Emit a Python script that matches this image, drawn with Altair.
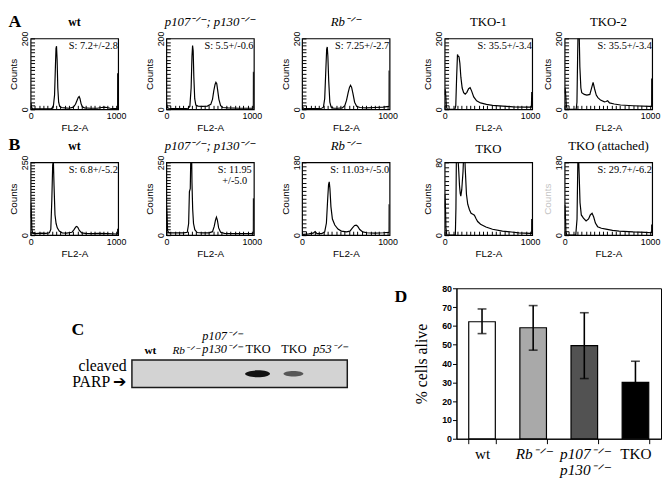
import json
import altair as alt
import pandas as pd

SERIF = "Liberation Serif"
SANS = "Liberation Sans"

# ---------------- Panels A / B : DNA-content histograms (FL2-A channel vs counts) ----------------
A_WT_X = [0, 4, 10, 20, 60, 150, 240, 265, 280, 290, 297, 303, 310, 318, 328, 340, 360, 400, 450, 500,
          525, 545, 558, 568, 578, 590, 605, 630, 700, 780, 830, 860, 890, 930, 990, 1018, 1019, 1023]
A_WT_Y = [14, 18, 6, 2, 1, 1, 2, 6, 40, 120, 172, 178, 140, 60, 20, 8, 5, 4, 3, 6,
          14, 26, 34, 36, 30, 16, 7, 4, 3, 3, 5, 6, 5, 3, 2, 2, 100, 100]

A_P107_X = [0, 4, 10, 25, 100, 200, 255, 275, 290, 300, 307, 314, 322, 332, 345, 370, 420, 480, 520, 540,
            555, 570, 580, 590, 600, 615, 635, 660, 720, 850, 1000, 1018, 1019, 1023]
A_P107_Y = [12, 16, 6, 3, 2, 2, 3, 8, 60, 150, 180, 165, 90, 30, 12, 9, 8, 9, 14, 28,
            52, 70, 76, 72, 55, 28, 10, 5, 4, 3, 3, 3, 104, 104]

A_RB_X = [0, 5, 15, 60, 150, 230, 250, 265, 278, 288, 295, 302, 312, 325, 340, 370, 420, 470, 500, 520,
          540, 555, 567, 580, 595, 615, 640, 680, 750, 850, 950, 1015, 1018, 1019, 1023]
A_RB_Y = [6, 8, 3, 2, 2, 3, 6, 30, 110, 170, 176, 150, 80, 20, 6, 3, 3, 4, 10, 25,
          48, 62, 68, 62, 45, 20, 8, 5, 4, 5, 6, 8, 8, 108, 108]

A_TKO1_X = [0, 4, 10, 20, 30, 60, 120, 130, 140, 150, 158, 168, 178, 190, 205, 222, 240, 260, 280, 298,
            315, 340, 374, 420, 489, 560, 680, 800, 948, 1015, 1019, 1023]
A_TKO1_Y = [40, 57, 50, 8, 0, 0, 0, 10, 90, 155, 150, 148, 130, 90, 60, 47, 43, 48, 58, 61,
            52, 35, 24, 18, 14, 11, 9, 7, 6, 6, 47, 47]

A_TKO2_X = [0, 4, 10, 20, 30, 60, 135, 144, 152, 160, 168, 178, 190, 200, 230, 260, 295, 315, 333, 350,
            370, 389, 420, 465, 485, 503, 525, 580, 654, 800, 994, 1018, 1019, 1023]
A_TKO2_Y = [45, 61, 50, 10, 0, 0, 0, 20, 150, 260, 240, 120, 60, 47, 42, 40, 42, 60, 76, 58,
            40, 33, 26, 21, 22, 24, 18, 15, 12, 10, 8, 8, 85, 85]

B_WT_X = [0, 3, 8, 15, 25, 60, 120, 180, 220, 236, 248, 258, 266, 274, 285, 298, 312, 335, 369, 420,
          483, 510, 528, 540, 552, 570, 598, 640, 720, 800, 900, 1000, 1018, 1019, 1023]
B_WT_Y = [60, 110, 80, 20, 6, 5, 7, 6, 8, 20, 120, 240, 258, 170, 70, 40, 25, 14, 8, 7,
          10, 20, 28, 30, 27, 16, 8, 6, 5, 6, 5, 4, 4, 20, 20]

B_P107_X = [0, 3, 8, 15, 30, 100, 200, 245, 261, 270, 280, 288, 295, 300, 308, 318, 333, 360, 420, 500,
            540, 560, 575, 586, 597, 612, 635, 680, 800, 950, 1015, 1018, 1019, 1023]
B_P107_Y = [50, 99, 70, 15, 8, 8, 8, 10, 40, 150, 160, 300, 300, 180, 90, 40, 19, 9, 8, 8,
            12, 30, 52, 62, 52, 25, 10, 6, 5, 5, 5, 5, 125, 125]

B_RB_X = [0, 5, 20, 80, 130, 153, 175, 230, 265, 285, 300, 310, 318, 326, 338, 355, 383, 420, 460, 520,
          560, 590, 615, 633, 650, 675, 710, 760, 850, 950, 1015, 1018, 1019, 1023]
B_RB_Y = [5, 3, 2, 3, 5, 9, 4, 4, 8, 30, 90, 125, 132, 115, 70, 40, 25, 15, 10, 8,
          10, 18, 24, 25, 22, 14, 8, 6, 5, 6, 7, 7, 75, 75]

B_TKO_X = [0, 3, 8, 15, 25, 60, 125, 132, 138, 150, 165, 174, 182, 189, 200, 215, 225, 232, 240, 255,
           270, 290, 309, 330, 348, 368, 386, 420, 483, 560, 676, 780, 869, 1004, 1018, 1019, 1023]
B_TKO_Y = [30, 45, 35, 8, 0, 0, 0, 30, 95, 95, 70, 54, 46, 43, 50, 70, 95, 100, 75, 45,
           34, 28, 24, 23, 22, 18, 15, 12, 9, 6.5, 4.5, 3.5, 2.6, 2, 2, 17, 17]

B_TKOATT_X = [0, 3, 8, 15, 25, 60, 130, 145, 155, 162, 170, 180, 195, 220, 251, 280, 300, 321, 340, 360,
              386, 430, 483, 560, 638, 800, 946, 1015, 1018, 1019, 1023]
B_TKOATT_Y = [40, 75, 55, 10, 0, 0, 0, 40, 190, 200, 150, 80, 50, 42, 35, 40, 50, 54, 45, 30,
              21, 17, 15, 12, 10, 8, 7, 6, 6, 25, 25]

SUP = "\u207b\u141f\u207b"  # superscript -/-

HIST_KEYS = ["A_wt", "A_p107", "A_Rb", "A_TKO1", "A_TKO2", "B_wt", "B_p107", "B_Rb", "B_TKO", "B_TKOatt"]
HIST_TITLES = ["wt", f"p107{SUP}; p130{SUP}", f"Rb{SUP}", "TKO-1", "TKO-2",
               "wt", f"p107{SUP}; p130{SUP}", f"Rb{SUP}", "TKO", "TKO (attached)"]
HIST_ITALIC = [False, True, True, False, False, False, True, True, False, False]
HIST_YMAX = [200, 200, 200, 200, 200, 250, 250, 180, 80, 180]
HIST_YSTEP = [10, 10, 10, 10, 10, 10, 10, 10, 5, 10]
S_TEXT = ["S: 7.2+/-2.8", "S: 5.5+/-0.6", "S: 7.25+/-2.7", "S: 35.5+/-3.4", "S: 35.5+/-3.4",
          "S: 6.8+/-5.2", ["S: 11.95", "+/-5.0"], "S: 11.03+/-5.0", "", "S: 29.7+/-6.2"]
S_ANCHOR = [1020, 1020, 1020, 1020, 1020, 1020, 800, 1020, 1020, 1020]
S_ALIGN = ["right", "right", "right", "right", "right", "right", "center", "right", "right", "right"]
COUNTS_COLOR = ["black"] * 9 + ["#c4c4c4"]

HIST_XS = [A_WT_X, A_P107_X, A_RB_X, A_TKO1_X, A_TKO2_X, B_WT_X, B_P107_X, B_RB_X, B_TKO_X, B_TKOATT_X]
HIST_YS = [A_WT_Y, A_P107_Y, A_RB_Y, A_TKO1_Y, A_TKO2_Y, B_WT_Y, B_P107_Y, B_RB_Y, B_TKO_Y, B_TKOATT_Y]

rows = []
for k, xs, ys in zip(HIST_KEYS, HIST_XS, HIST_YS):
    for a, b in zip(xs, ys):
        rows.append({"panel": k, "ch": a, "count": b})
hist_df = pd.DataFrame(rows)

# ---------------- Panel C : western blot ----------------
LANES = ["wt", "Rb", "p107p130", "TKO1", "TKO2", "p53"]
LANE_LABELS = ["wt", f"Rb{SUP}", [f"p107{SUP}", f"p130{SUP}"], "TKO", "TKO", f"p53{SUP}"]
BAND_INTENSITY = [0.0, 0.0, 0.0, 1.0, 0.64, 0.0]
PROTEIN = "cleaved PARP"

# ---------------- Panel D : survival bars ----------------
GROUPS = ["wt", "Rb", "p107p130", "TKO"]
GROUP_LABELS = ["wt", f"Rb{SUP}", [f"p107{SUP}", f"p130{SUP}"], "TKO"]
ALIVE_MEAN = [62.2, 59.0, 49.5, 30.0]
ALIVE_LOW = [55.9, 47.1, 32.0, 19.0]
ALIVE_HIGH = [69.0, 70.8, 67.0, 41.2]
BAR_COLORS = ["#ffffff", "#a9a9a9", "#525252", "#000000"]


def lookup_expr(keys, labels):
    return (f"{json.dumps(labels, ensure_ascii=False)}"
            f"[indexof({json.dumps(keys)}, datum.value)]")


def cond(keys, on, off):
    test = " || ".join(f"datum.value == '{k}'" for k in keys)
    return {"condition": {"test": test, "value": on}, "value": off}


def make_hist(i):
    key = HIST_KEYS[i]
    ymax = HIST_YMAX[i]
    xscale = alt.Scale(domain=[0, 1024], nice=False, zero=False)
    xaxis = alt.Axis(values=list(range(0, 1001, 50)), format="d", labelOverlap=False,
                     labelFlush=False, labelBound=False,
                     labelExpr="datum.value == 0 || datum.value == 1000 ? datum.label : ''",
                     title="FL2-A", offset=-4, tickSize=4, domain=False, grid=False,
                     labelPadding=2, labelFont=SANS, labelFontSize=9, titleFont=SANS,
                     titleFontSize=10, titleFontWeight="normal", titlePadding=3)
    yscale = alt.Scale(domain=[0, ymax], nice=False, zero=True)
    yaxis = alt.Axis(values=list(range(0, ymax + 1, HIST_YSTEP[i])), labelOverlap=False,
                     labelFlush=False, labelBound=False,
                     labelExpr=f"datum.value == 0 || datum.value == {ymax} ? datum.label : ''",
                     labelAngle=270, labelAlign="center", labelBaseline="bottom",
                     title="Counts", offset=-4, tickSize=4, domain=False, grid=False,
                     labelPadding=1, labelFont=SANS, labelFontSize=9, titleFont=SANS,
                     titleFontSize=10, titleFontWeight="normal", titlePadding=2,
                     titleColor=COUNTS_COLOR[i])
    line = alt.Chart(hist_df).transform_filter(alt.datum.panel == key).mark_line(
        color="black", strokeWidth=1.2, clip=True
    ).encode(x=alt.X("ch:Q", scale=xscale, axis=xaxis),
             y=alt.Y("count:Q", scale=yscale, axis=yaxis))
    layers = [line]
    if S_TEXT[i]:
        txt = alt.Chart(pd.DataFrame({"k": [key]})).mark_text(
            text=S_TEXT[i], font=SERIF, fontSize=10.5, align=S_ALIGN[i], baseline="top",
            dy=3, color="black", lineHeight=11
        ).encode(x=alt.XDatum(S_ANCHOR[i], type="quantitative", scale=xscale, axis=xaxis),
                 y=alt.YDatum(ymax, type="quantitative", scale=yscale, axis=yaxis))
        layers.append(txt)
    title = alt.TitleParams(
        HIST_TITLES[i], font=SERIF, fontSize=12 if HIST_TITLES[i] == "wt" else 13,
        fontWeight="bold" if HIST_TITLES[i] == "wt" else "normal",
        fontStyle="italic" if HIST_ITALIC[i] else "normal",
        anchor="middle", frame="group", offset=2, color="black")
    return alt.layer(*layers).properties(width=89, height=72 if i < 5 else 74, title=title)


def letter(t, offset, dx=0):
    return alt.TitleParams(t, anchor="start", frame="bounds", font=SERIF, fontSize=18,
                           fontWeight="bold", offset=offset, dx=dx, color="black")


def spacer(w, h):
    return alt.Chart(pd.DataFrame({"v": [0]})).mark_point(opacity=0).encode(
        x=alt.X("v:Q", axis=None), y=alt.Y("v:Q", axis=None)
    ).properties(width=w, height=h, view=alt.ViewBackground(stroke="transparent"))


h = [make_hist(i) for i in range(10)]
rowA = alt.hconcat(alt.hconcat(h[0], h[1], h[2], spacing=17),
                   alt.hconcat(h[3], h[4], spacing=1), spacing=24, title=letter("A", -15))
rowB = alt.hconcat(alt.hconcat(h[5], h[6], h[7], spacing=17),
                   alt.hconcat(h[8], h[9], spacing=1), spacing=24, title=letter("B", -15))

# ---- C ----
blot_df = pd.DataFrame({"lane": LANES, "intensity": BAND_INTENSITY, "protein": [PROTEIN] * len(LANES)})
ELLIPSE = "M -1 0 A 1 0.28 0 1 0 1 0 A 1 0.28 0 1 0 -1 0 Z"
blot = alt.Chart(blot_df).mark_point(filled=True, shape=ELLIPSE, color="#111111").encode(
    x=alt.X("lane:N", sort=LANES, scale=alt.Scale(type="point", padding=0.5),
            axis=alt.Axis(orient="top", title=None, labelAngle=0, ticks=False, domain=False,
                          labelExpr=lookup_expr(LANES, LANE_LABELS), labelFont=SERIF,
                          labelLineHeight=13, labelBaseline="bottom",
                          labelOverlap=False,
                          labelPadding=cond(["p107p130"], 18, 5),
                          labelFontSize=cond(["wt", "Rb"], 11.5, 12.5),
                          labelFontStyle=cond(["Rb", "p107p130", "p53"], "italic", "normal"),
                          labelFontWeight=cond(["wt"], "bold", "normal"))),
    y=alt.Y("protein:N", scale=alt.Scale(type="point", padding=0.5),
            axis=alt.Axis(title=None, ticks=False, domain=False, labelFont=SERIF, labelFontSize=16,
                          labelLineHeight=16, labelPadding=6, labelAlign="right",
                          labelBaseline="middle", labelOffset=-8,
                          labelExpr="[split(datum.label, ' ')[0], split(datum.label, ' ')[1] + ' \u2794']")),
    size=alt.Size("intensity:Q", scale=alt.Scale(domain=[0, 1], range=[0, 640]), legend=None),
    opacity=alt.Opacity("intensity:Q", scale=alt.Scale(domain=[0, 1], range=[0, 1]), legend=None),
).properties(width=219, height=28, title=letter("C", -10),
             view=alt.ViewBackground(fill="#d3d3d3", stroke="#1a1a1a", strokeWidth=1.5))

# ---- D ----
d_df = pd.DataFrame({"group": GROUPS, "mean": ALIVE_MEAN, "low": ALIVE_LOW, "high": ALIVE_HIGH})
xD = alt.X("group:N", sort=GROUPS, scale=alt.Scale(domain=GROUPS, paddingInner=0.48, paddingOuter=0.24),
           axis=alt.Axis(title=None, labelAngle=0, labelExpr=lookup_expr(GROUPS, GROUP_LABELS),
                         labelFont=SERIF, labelFontSize=15.5, labelLineHeight=16, labelPadding=3,
                         labelBaseline="top",
                         labelFontStyle=cond(["Rb", "p107p130"], "italic", "normal"),
                         tickBand="extent", tickSize=5, domainColor="black"))
scaleD = alt.Scale(domain=[0, 80], nice=False)
axisD = alt.Axis(values=list(range(0, 81, 10)), title="% cells alive", titleFont=SERIF,
                 titleFontSize=16, titleFontWeight="normal", titlePadding=12, grid=False,
                 labelFont=SANS, labelFontSize=9, labelFontWeight="bold", tickSize=4,
                 labelPadding=1, labelOverlap=False)
d_base = alt.Chart(d_df)
bars = d_base.mark_bar(stroke="black", strokeWidth=1.2).encode(
    x=xD, y=alt.Y("mean:Q", scale=scaleD, axis=axisD),
    fill=alt.Fill("group:N", scale=alt.Scale(domain=GROUPS, range=BAR_COLORS), legend=None))
err = d_base.mark_rule(color="black", strokeWidth=1.6).encode(
    x=xD, y=alt.Y("low:Q", scale=scaleD, axis=axisD), y2="high:Q")
cap_hi = d_base.mark_tick(color="black", thickness=1.6, size=9).encode(
    x=xD, y=alt.Y("high:Q", scale=scaleD, axis=axisD))
cap_lo = d_base.mark_tick(color="black", thickness=1.6, size=9).encode(
    x=xD, y=alt.Y("low:Q", scale=scaleD, axis=axisD))
panelD = alt.layer(bars, err, cap_hi, cap_lo).properties(
    width=208, height=153, title=letter("D", -22, -20),
    view=alt.ViewBackground(stroke="black", strokeWidth=1))

row3 = alt.hconcat(
    alt.hconcat(spacer(39, 1), alt.vconcat(spacer(1, 32), blot, spacing=0), spacing=0),
    panelD, spacing=46)

chart = alt.vconcat(alt.vconcat(rowA, rowB, spacing=2), row3, spacing=24).properties(
    padding=0
).configure_view(stroke="black", strokeWidth=1.2).configure_axis(
    labelColor="black", titleColor="black", tickColor="black", domainColor="black"
).configure_concat(spacing=0)

chart.save("out.html", embed_options={"renderer": "svg", "actions": False})
